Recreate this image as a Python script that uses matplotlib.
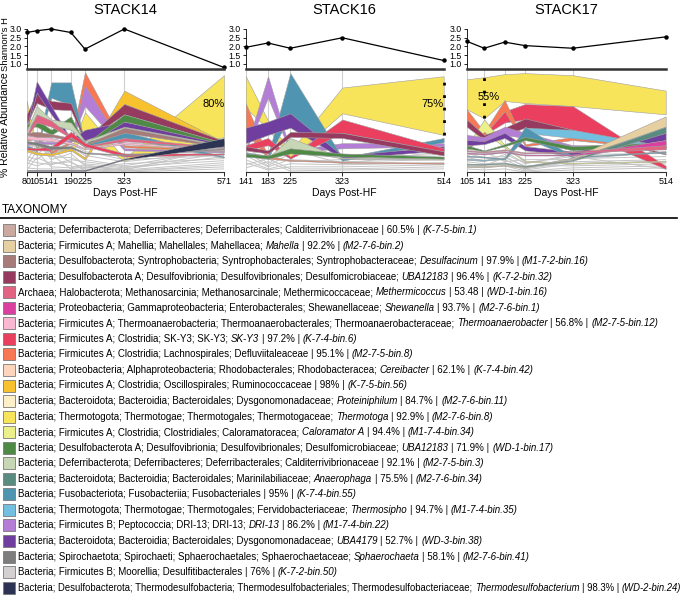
import matplotlib
matplotlib.use("Agg")
import matplotlib.pyplot as plt
from matplotlib.patches import Rectangle
from matplotlib.lines import Line2D

plt.rcParams['font.family'] = ['Liberation Sans', 'DejaVu Sans']

# ---- taxonomy legend (colour + label, _x_ = italic) ----
tax_colors = ['#c9a9a0', '#e6cfa0', '#a87b7b', '#963a5f', '#e36383', '#db3fa0',
              '#f9b7d2', '#ea3f5e', '#f87853', '#fdd5bd', '#f8c22e', '#fdf0c8',
              '#f8e45a', '#ecf08a', '#4e8946', '#c7d6b4', '#5a8b80', '#4f95b2',
              '#72bfe0', '#b47dd6', '#703e9e', '#7d7d7d', '#d4cfd0', '#2d3352']
tax_labels = [
    "Bacteria; Deferribacterota; Deferribacteres; Deferribacterales; Calditerrivibrionaceae | 60.5% | _(K-7-5-bin.1)_",
    "Bacteria; Firmicutes A; Mahellia; Mahellales; Mahellacea; _Mahella_ | 92.2% | _(M2-7-6-bin.2)_",
    "Bacteria; Desulfobacterota; Syntrophobacteria; Syntrophobacterales; Syntrophobacteraceae; _Desulfacinum_ | 97.9% | _(M1-7-2-bin.16)_",
    "Bacteria; Desulfobacterota A; Desulfovibrionia; Desulfovibrionales; Desulfomicrobiaceae; _UBA12183_ | 96.4% | _(K-7-2-bin.32)_",
    "Archaea; Halobacterota; Methanosarcinia; Methanosarcinale; Methermicoccaceae; _Methermicoccus_ | 53.48 | _(WD-1-bin.16)_",
    "Bacteria; Proteobacteria; Gammaproteobacteria; Enterobacterales; Shewanellaceae; _Shewanella_ | 93.7% | _(M2-7-6-bin.1)_",
    "Bacteria; Firmicutes A; Thermoanaerobacteria; Thermoanaerobacterales; Thermoanaerobacteraceae; _Thermoanaerobacter_ | 56.8% | _(M2-7-5-bin.12)_",
    "Bacteria; Firmicutes A; Clostridia; SK-Y3; SK-Y3; _SK-Y3_ | 97.2% | _(K-7-4-bin.6)_",
    "Bacteria; Firmicutes A; Clostridia; Lachnospirales; Defluviitaleaceae | 95.1% | _(M2-7-5-bin.8)_",
    "Bacteria; Proteobacteria; Alphaproteobacteria; Rhodobacterales; Rhodobacteracea; _Cereibacter_ | 62.1% | _(K-7-4-bin.42)_",
    "Bacteria; Firmicutes A; Clostridia; Oscillospirales; Ruminococcaceae | 98% | _(K-7-5-bin.56)_",
    "Bacteria; Bacteroidota; Bacteroidia; Bacteroidales; Dysgonomonadaceae; _Proteiniphilum_ | 84.7% | _(M2-7-6-bin.11)_",
    "Bacteria; Thermotogota; Thermotogae; Thermotogales; Thermotogaceae; _Thermotoga_ | 92.9% | _(M2-7-6-bin.8)_",
    "Bacteria; Firmicutes A; Clostridia; Clostridiales; Caloramatoracea; _Caloramator A_ | 94.4% | _(M1-7-4-bin.34)_",
    "Bacteria; Desulfobacterota A; Desulfovibrionia; Desulfovibrionales; Desulfomicrobiaceae; _UBA12183_ | 71.9% | _(WD-1-bin.17)_",
    "Bacteria; Deferribacterota; Deferribacteres; Deferribacterales; Calditerrivibrionaceae | 92.1% | _(M2-7-5-bin.3)_",
    "Bacteria; Bacteroidota; Bacteroidia; Bacteroidales; Marinilabiliaceae; _Anaerophaga_ | 75.5% | _(M2-7-6-bin.34)_",
    "Bacteria; Fusobacteriota; Fusobacteriia; Fusobacteriales | 95% | _(K-7-4-bin.55)_",
    "Bacteria; Thermotogota; Thermotogae; Thermotogales; Fervidobacteriaceae; _Thermosipho_ | 94.7% | _(M1-7-4-bin.35)_",
    "Bacteria; Firmicutes B; Peptococcia; DRI-13; DRI-13; _DRI-13_ | 86.2% | _(M1-7-4-bin.22)_",
    "Bacteria; Bacteroidota; Bacteroidia; Bacteroidales; Dysgonomonadaceae; _UBA4179_ | 52.7% | _(WD-3-bin.38)_",
    "Bacteria; Spirochaetota; Spirochaeti; Sphaerochaetales; Sphaerochaetaceae; _Sphaerochaeta_ | 58.1% | _(M2-7-6-bin.41)_",
    "Bacteria; Firmicutes B; Moorellia; Desulfitibacterales | 76% | _(K-7-2-bin.50)_",
    "Bacteria; Desulfobacterota; Thermodesulfobacteria; Thermodesulfobacteriales; Thermodesulfobacteriaceae; _Thermodesulfobacterium_ | 98.3% | _(WD-2-bin.24)_",
]

# ---- STACK14 ----
s14_days = [80, 105, 141, 190, 225, 323, 571]
s14_shannon = [2.8, 2.9, 3.0, 2.8, 1.85, 3.0, 0.8]
# (taxon index, lower edge, upper edge) in % of panel height
s14_bands = [
    (12, [56, 22, 23, 20, 36, 11, 34], [69, 24, 25, 22, 58, 13, 94]),
    (10, [20, 17, 16, 21, 12, 66, 27], [22, 19, 18, 23, 14, 79, 29]),
    (8, [30, 34, 18, 28, 80, 24, 20], [32, 36, 20, 30, 97, 26, 21]),
    (19, [26, 28, 27, 29, 64, 21, 19], [28, 30, 29, 31, 84, 23, 20]),
    (17, [24, 20, 72, 65, 25, 33, 14], [26, 22, 87, 87, 27, 39, 15]),
    (3, [46, 67, 61, 60, 30, 56, 28], [56, 77, 69, 67, 32, 66, 30]),
    (20, [40, 77, 56, 30, 31, 43, 26], [42, 88, 64, 32, 41, 49, 28]),
    (14, [44, 44, 36, 48, 25, 49, 27], [46, 51, 41, 54, 27, 56, 28]),
    (15, [38, 56, 46, 41, 29, 39, 25], [40, 64, 51, 48, 30, 44, 26]),
    (4, [34, 48, 44, 33, 24, 30, 23], [36, 56, 50, 35, 25, 33, 24]),
    (6, [32, 31, 30, 27, 22, 27, 21], [34, 38, 33, 29, 23, 29, 22]),
    (2, [36, 34, 34, 31, 26, 38, 24], [38, 39, 37, 33, 27, 43, 25]),
    (7, [22, 21, 21, 34, 25, 15, 17], [24, 23, 25, 39, 28, 18, 18]),
    (21, [28, 26, 22, 23, 18, 16, 22], [30, 29, 25, 25, 19, 17, 23]),
    (23, [1, 1, 1, 1, 1, 12, 25], [2, 2, 2, 2, 2, 13, 33]),
]
s14_gray = [
    [28, 24, 19, 22, 12, 6, 22], [22, 18, 15, 14, 8, 4, 18], [18, 30, 12, 18, 6, 3, 15],
    [15, 12, 22, 9, 4, 8, 13], [12, 9, 7, 12, 10, 5, 11], [9, 6, 10, 6, 3, 2, 9],
    [6, 20, 5, 4, 7, 1, 7], [4, 3, 3, 2, 2, 1, 5], [26, 35, 28, 25, 16, 10, 20],
    [2, 14, 8, 10, 1, 0, 3], [32, 16, 30, 27, 20, 12, 16], [10, 27, 17, 3, 5, 2, 24],
]

# ---- STACK16 ----
s16_days = [141, 183, 225, 323, 514]
s16_shannon = [1.95, 2.2, 1.9, 2.5, 1.2]
s16_bands = [
    (12, [62, 42, 13, 57, 36], [93, 50, 20, 82, 93]),
    (8, [39, 13, 11, 9, 8], [67, 15, 12, 10, 9]),
    (19, [20, 72, 19, 23, 25], [22, 93, 21, 28, 28]),
    (17, [17, 13, 56, 11, 29], [19, 16, 96, 14, 33]),
    (20, [28, 36, 43, 13, 21], [43, 49, 57, 16, 25]),
    (7, [21, 26, 13, 38, 20], [26, 33, 15, 51, 23]),
    (3, [21, 18, 34, 33, 16], [25, 21, 39, 38, 20]),
    (15, [16, 13, 23, 13, 12], [17, 14, 33, 14, 13]),
    (14, [15, 13, 18, 15, 13], [18, 16, 23, 18, 15]),
]
s16_gray = [
    [20, 6, 18, 14, 17], [16, 5, 12, 10, 12], [12, 3, 8, 7, 9], [9, 2, 5, 5, 7],
    [7, 13, 3, 3, 5], [4, 10, 1, 2, 3], [14, 16, 10, 12, 14], [25, 8, 22, 8, 20],
]

# ---- STACK17 ----
s17_days = [105, 141, 183, 225, 323, 514]
s17_shannon = [2.3, 1.9, 2.25, 2.05, 1.9, 2.55]
s17_bands = [
    (12, [61, 52, 69, 67, 64, 56], [90, 92, 95, 96, 94, 79]),
    (7, [21, 36, 48, 51, 41, 3], [24, 38, 59, 66, 64, 6]),
    (8, [49, 36, 59, 25, 31, 22], [61, 39, 70, 27, 34, 23]),
    (13, [23, 39, 24, 10, 8, 10], [25, 51, 26, 11, 9, 11]),
    (3, [44, 31, 36, 43, 38, 17], [51, 36, 43, 52, 41, 18]),
    (19, [31, 30, 36, 33, 23, 24], [36, 34, 44, 38, 26, 26]),
    (20, [26, 27, 33, 21, 16, 31], [31, 30, 38, 25, 20, 38]),
    (18, [12, 11, 13, 38, 33, 23], [13, 12, 14, 43, 41, 25]),
    (17, [15, 14, 12, 33, 14, 19], [16, 15, 13, 44, 15, 20]),
    (14, [23, 20, 25, 31, 21, 27], [26, 21, 27, 34, 25, 29]),
    (1, [5, 5, 6, 4, 13, 44], [6, 6, 7, 5, 14, 54]),
    (16, [7, 7, 8, 5, 11, 38], [8, 8, 9, 6, 12, 44]),
    (5, [18, 17, 19, 16, 16, 26], [19, 18, 20, 17, 17, 31]),
    (4, [20, 19, 21, 18, 19, 22], [21, 20, 22, 19, 20, 26]),
]
s17_gray = [
    [22, 18, 20, 8, 17, 18], [18, 14, 15, 5, 13, 15], [14, 11, 12, 3, 10, 12],
    [10, 8, 9, 2, 8, 10], [8, 6, 14, 6, 6, 8], [5, 4, 6, 1, 4, 6],
    [3, 2, 3, 0, 2, 4], [16, 20, 10, 12, 12, 20], [12, 10, 17, 9, 15, 3],
]

W, H = 685, 596
fig = plt.figure(figsize=(6.85, 5.96), dpi=100)


def fx(px):
    return px / W


def fy(py):
    return 1 - py / H


panels = [
    ('STACK14', s14_days, s14_shannon, s14_bands, s14_gray, 26.7, 224, ('80%', 544, 66), None),
    ('STACK16', s16_days, s16_shannon, s16_bands, s16_gray, 245.7, 443.7, ('75%', 492, 66), (514, 36, 93)),
    ('STACK17', s17_days, s17_shannon, s17_bands, s17_gray, 466.7, 665.7, ('55%', 150, 73), (141, 52, 92)),
]

for name, days, shan, bands, grays, x0, x1, lab, dots in panels:
    axh = fig.add_axes([fx(x0), fy(69), fx(x1) - fx(x0), fy(22) - fy(69)])
    axr = fig.add_axes([fx(x0), fy(172), fx(x1) - fx(x0), fy(69) - fy(172)])

    # Shannon diversity
    axh.plot(days, shan, color='black', lw=0.9, marker='o', ms=2.2, clip_on=False)
    axh.set_xlim(days[0], days[-1])
    axh.set_ylim(0.714, 3.4)
    axh.set_xticks([])
    axh.set_yticks([1.0, 1.5, 2.0, 2.5, 3.0])
    axh.set_yticklabels(['1.0', '1.5', '2.0', '2.5', '3.0'], fontsize=6.3)
    axh.tick_params(axis='y', length=2.5, width=0.6, pad=1)
    for s in ['top', 'right', 'bottom']:
        axh.spines[s].set_visible(False)
    axh.spines['left'].set_bounds(0.714, 3.0)
    axh.spines['left'].set_linewidth(0.6)
    axh.patch.set_alpha(0)

    # ribbons
    axr.vlines(days, 0, 100, color='#cfcfcf', lw=0.8, zorder=0.5)
    for g in grays:
        axr.plot(days, g, color='#c4c4c4', lw=0.7, zorder=1)
    for k, (ti, lo, hi) in enumerate(bands):
        axr.fill_between(days, lo, hi, facecolor=tax_colors[ti], edgecolor='#a0a0a0',
                         lw=0.4, zorder=2 + k * 0.01)
    axr.text(lab[1], lab[2], lab[0], fontsize=8, ha='center', va='center', zorder=5)
    if dots:
        axr.plot([dots[0], dots[0]], [dots[1], dots[2]], color='black', lw=2,
                 ls=(0, (1, 3.5)), zorder=4, clip_on=False)
    axr.set_xlim(days[0], days[-1])
    axr.set_ylim(0, 100)
    axr.set_yticks([])
    axr.set_xticks(days)
    axr.set_xticklabels([str(d) for d in days], fontsize=6.5)
    axr.tick_params(axis='x', length=3, width=0.6, pad=0.5)
    axr.spines['left'].set_visible(False)
    axr.spines['right'].set_visible(False)
    axr.spines['top'].set_linewidth(1.8)
    axr.spines['top'].set_color('#333333')
    axr.spines['bottom'].set_linewidth(0.8)
    axr.spines['bottom'].set_color('#333333')

    cx = fx((x0 + x1) / 2)
    fig.text(cx, fy(10), name, fontsize=10.5, ha='center', va='center')
    fig.text(cx, fy(193), 'Days Post-HF', fontsize=7.5, ha='center', va='center')

fig.text(fx(5.5), fy(44), "Shannon's H", rotation=90, fontsize=6.8, ha='center', va='center')
fig.text(fx(5.5), fy(125), "% Relative Abundance", rotation=90, fontsize=7.5, ha='center', va='center')

# ---- taxonomy legend ----
fig.text(fx(2), fy(210), 'TAXONOMY', fontsize=8.5, ha='left', va='center')
fig.add_artist(Line2D([fx(0), fx(677)], [fy(218), fy(218)], color='black', lw=1.2))

renderer = fig.canvas.get_renderer()


def text_width(s, fs, style):
    t = fig.text(0, 0, s, fontsize=fs, style=style)
    w = t.get_window_extent(renderer).width
    t.remove()
    return w


for i, lbl in enumerate(tax_labels):
    y = 230 + i * 15.55
    fs = 6.85 if i == len(tax_labels) - 1 else 7.0
    fig.add_artist(Rectangle((fx(3), fy(y + 6)), 12 / W, 12 / H, transform=fig.transFigure,
                             facecolor=tax_colors[i], edgecolor='#7a7a7a', lw=0.6))
    space = text_width('a a', fs, 'normal') - text_width('aa', fs, 'normal')
    x = 18.0
    for j, seg in enumerate(lbl.split('_')):
        if seg == '':
            continue
        style = 'italic' if j % 2 == 1 else 'normal'
        lead = len(seg) - len(seg.lstrip(' '))
        trail = len(seg) - len(seg.rstrip(' '))
        core = seg.strip(' ')
        x += lead * space
        t = fig.text(fx(x), fy(y), core, fontsize=fs, style=style, ha='left', va='center')
        x += t.get_window_extent(renderer).width + trail * space

fig.savefig('out.png', dpi=100)
